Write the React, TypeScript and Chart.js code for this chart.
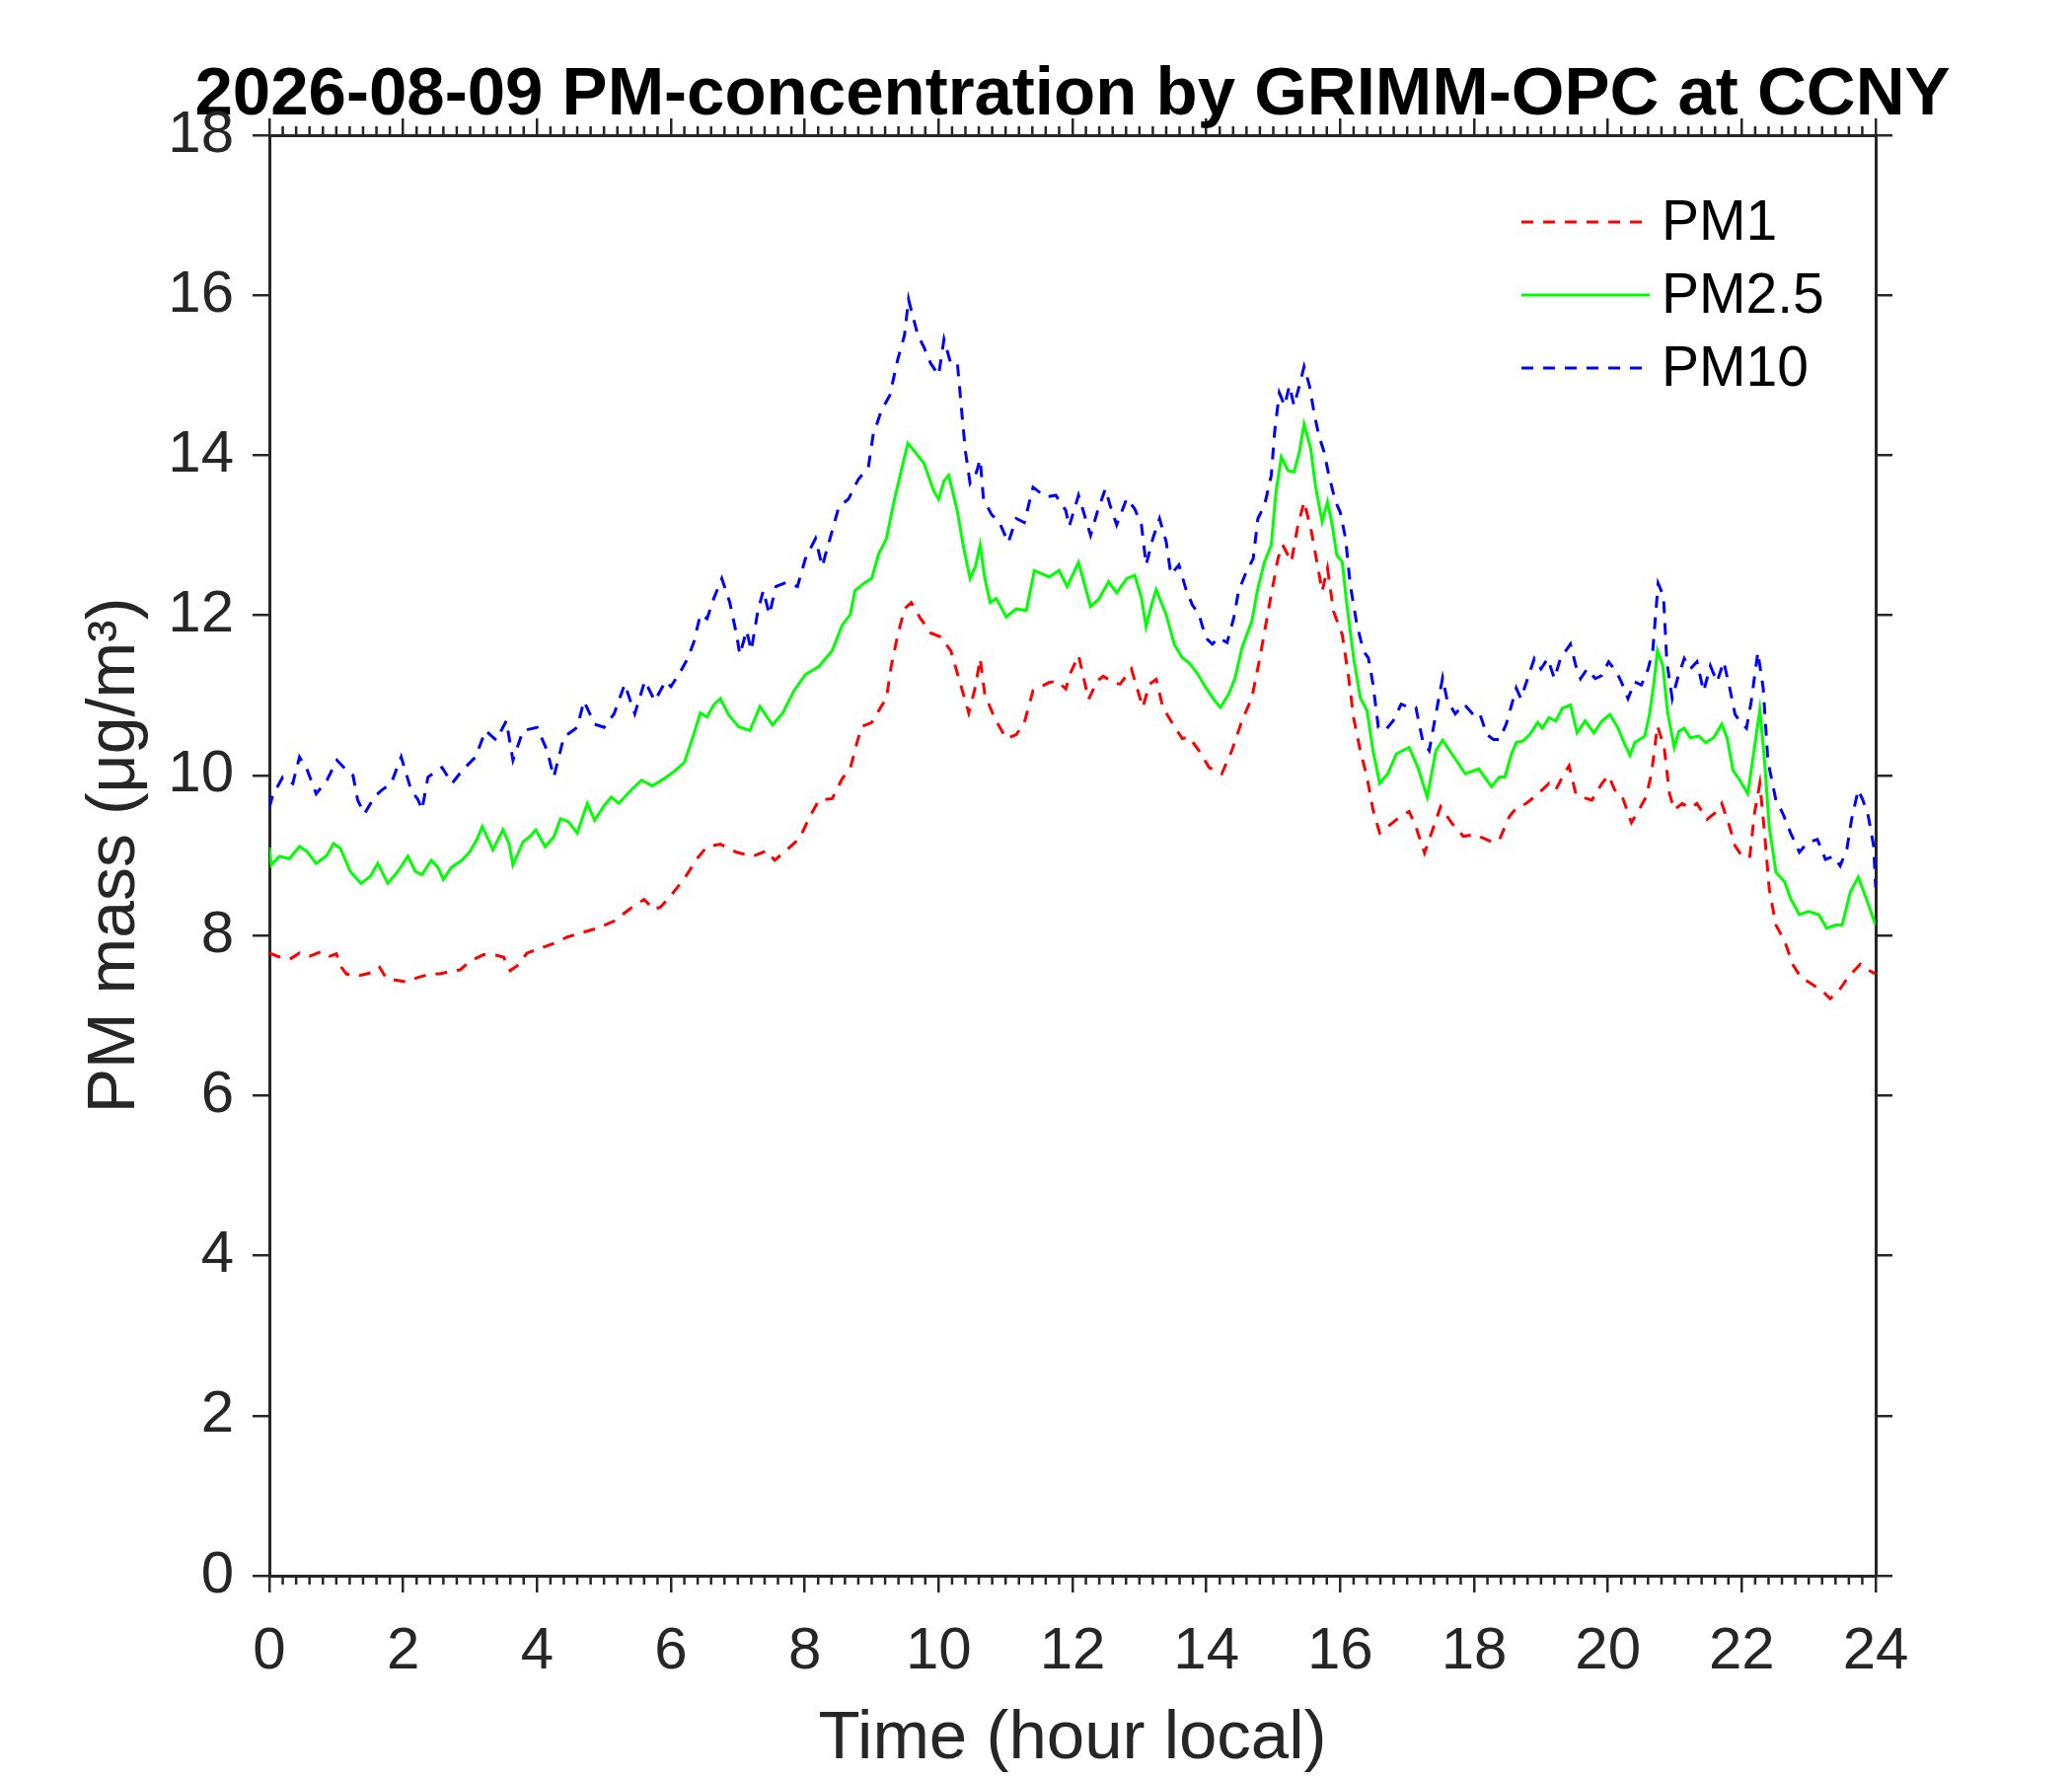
import React, { useEffect, useRef } from 'react';
import { Chart, registerables } from 'chart.js';

Chart.register(...registerables);

// Time in hours (local), mass in µg/m³
const pm1Hours = [
  0.0, 0.12, 0.3, 0.45, 0.6, 0.78, 0.9, 1.0, 1.08, 1.15, 1.3, 1.45, 1.6, 1.65, 1.75, 1.9, 2.05, 2.2, 2.4, 2.55,
  2.7, 2.85, 3.0, 3.2, 3.35, 3.5, 3.6, 3.7, 3.85, 4.05, 4.25, 4.45, 4.65, 4.9, 5.15, 5.4, 5.6, 5.75, 5.85, 6.0,
  6.2, 6.39, 6.54, 6.74, 6.98, 7.23, 7.43, 7.55, 7.72, 7.92, 8.06, 8.21, 8.41, 8.56, 8.68, 8.78, 8.85, 9.0, 9.14, 9.22,
  9.29, 9.39, 9.49, 9.59, 9.73, 9.88, 10.03, 10.18, 10.32, 10.45, 10.55, 10.62, 10.69, 10.84, 11.01, 11.16, 11.28, 11.41, 11.65, 11.77,
  11.9, 11.97, 12.09, 12.24, 12.37, 12.46, 12.61, 12.71, 12.88, 13.05, 13.15, 13.25, 13.35, 13.5, 13.64, 13.74, 13.89, 14.04, 14.23, 14.38,
  14.53, 14.68, 14.8, 14.87, 14.97, 15.07, 15.14, 15.27, 15.36, 15.46, 15.56, 15.66, 15.73, 15.81, 15.9, 16.03, 16.12, 16.2, 16.3, 16.4,
  16.49, 16.59, 16.71, 16.86, 17.03, 17.13, 17.26, 17.38, 17.5, 17.67, 17.84, 18.02, 18.29, 18.38, 18.53, 18.63, 18.78, 18.93, 19.12, 19.22,
  19.32, 19.42, 19.52, 19.61, 19.76, 19.91, 20.01, 20.1, 20.2, 20.35, 20.45, 20.57, 20.65, 20.74, 20.84, 20.92, 20.99, 21.11, 21.23, 21.33,
  21.48, 21.6, 21.7, 21.8, 21.9, 22.02, 22.12, 22.19, 22.27, 22.34, 22.41, 22.51, 22.64, 22.76, 22.88, 23.05, 23.2, 23.32, 23.45, 23.59,
  23.77, 23.86, 24.0,
];
const pm1Values = [
  7.78, 7.74, 7.70, 7.78, 7.74, 7.80, 7.74, 7.77, 7.60, 7.52, 7.49, 7.52, 7.55, 7.60, 7.46, 7.44, 7.42, 7.47, 7.52, 7.52,
  7.55, 7.57, 7.68, 7.76, 7.76, 7.73, 7.56, 7.62, 7.78, 7.84, 7.90, 7.98, 8.03, 8.09, 8.18, 8.34, 8.45, 8.32, 8.36, 8.50,
  8.71, 8.96, 9.11, 9.14, 9.04, 8.99, 9.06, 8.94, 9.06, 9.21, 9.46, 9.69, 9.71, 9.96, 10.09, 10.41, 10.61, 10.66, 10.86, 10.96,
  11.36, 11.76, 12.08, 12.16, 11.96, 11.78, 11.73, 11.56, 11.16, 10.78, 11.11, 11.46, 11.01, 10.71, 10.46, 10.51, 10.66, 11.06, 11.16, 11.18,
  11.08, 11.28, 11.5, 10.95, 11.18, 11.24, 11.16, 11.14, 11.33, 10.85, 11.14, 11.2, 10.85, 10.64, 10.46, 10.48, 10.31, 10.10, 10.02, 10.31,
  10.68, 10.97, 11.47, 11.80, 12.26, 12.71, 12.88, 12.67, 13.09, 13.42, 13.09, 12.63, 12.30, 12.59, 12.05, 11.76, 11.26, 10.72, 10.31, 9.98,
  9.57, 9.28, 9.36, 9.46, 9.55, 9.36, 9.03, 9.32, 9.61, 9.40, 9.24, 9.26, 9.16, 9.2, 9.49, 9.59, 9.65, 9.75, 9.9, 9.82,
  9.98, 10.12, 9.77, 9.73, 9.69, 9.9, 10.0, 9.82, 9.77, 9.41, 9.55, 9.73, 10.02, 10.62, 10.35, 9.77, 9.57, 9.65, 9.59, 9.65,
  9.45, 9.53, 9.65, 9.41, 9.12, 8.97, 8.99, 9.53, 9.9, 9.28, 8.58, 8.13, 7.93, 7.64, 7.48, 7.39, 7.31, 7.21, 7.31, 7.48,
  7.64, 7.58, 7.52,
];

const pm25Hours = [
  0.0, 0.03, 0.15, 0.3, 0.45, 0.56, 0.7, 0.86, 0.96, 1.06, 1.21, 1.37, 1.51, 1.62, 1.77, 1.92, 2.07, 2.18, 2.28, 2.42,
  2.52, 2.6, 2.72, 2.88, 3.0, 3.1, 3.18, 3.26, 3.34, 3.49, 3.58, 3.64, 3.79, 3.9, 3.98, 4.12, 4.25, 4.35, 4.47, 4.6,
  4.75, 4.86, 5.0, 5.11, 5.22, 5.41, 5.56, 5.72, 5.9, 6.05, 6.2, 6.34, 6.44, 6.54, 6.64, 6.74, 6.86, 7.01, 7.18, 7.33,
  7.52, 7.67, 7.84, 8.01, 8.21, 8.41, 8.56, 8.68, 8.75, 8.9, 9.0, 9.1, 9.22, 9.34, 9.44, 9.54, 9.64, 9.78, 9.93, 10.0,
  10.08, 10.15, 10.28, 10.37, 10.47, 10.55, 10.62, 10.69, 10.77, 10.86, 11.01, 11.16, 11.31, 11.43, 11.65, 11.8, 11.92, 12.09, 12.27, 12.39,
  12.54, 12.66, 12.81, 12.93, 13.03, 13.1, 13.18, 13.25, 13.4, 13.52, 13.64, 13.74, 13.86, 13.99, 14.11, 14.21, 14.33, 14.43, 14.53, 14.68,
  14.77, 14.87, 14.97, 15.04, 15.12, 15.22, 15.31, 15.39, 15.46, 15.56, 15.63, 15.73, 15.81, 15.88, 15.95, 16.03, 16.1, 16.2, 16.3, 16.4,
  16.49, 16.59, 16.71, 16.84, 17.03, 17.16, 17.3, 17.43, 17.53, 17.7, 17.87, 18.07, 18.26, 18.38, 18.46, 18.56, 18.63, 18.73, 18.83, 18.95,
  19.02, 19.12, 19.22, 19.32, 19.44, 19.54, 19.66, 19.79, 19.91, 20.03, 20.15, 20.25, 20.33, 20.4, 20.55, 20.62, 20.69, 20.74, 20.82, 20.89,
  20.99, 21.06, 21.14, 21.23, 21.36, 21.46, 21.58, 21.7, 21.78, 21.87, 21.97, 22.09, 22.19, 22.27, 22.34, 22.41, 22.51, 22.64, 22.73, 22.86,
  23.0, 23.15, 23.27, 23.4, 23.5, 23.62, 23.74, 23.86, 24.0,
];
const pm25Values = [
  9.1, 8.88, 8.99, 8.96, 9.11, 9.05, 8.90, 9.0, 9.15, 9.09, 8.80, 8.65, 8.74, 8.90, 8.65, 8.80, 8.99, 8.80, 8.76, 8.94,
  8.85, 8.70, 8.85, 8.94, 9.05, 9.20, 9.36, 9.22, 9.07, 9.32, 9.15, 8.88, 9.17, 9.24, 9.32, 9.11, 9.23, 9.46, 9.42, 9.28,
  9.65, 9.44, 9.62, 9.73, 9.65, 9.82, 9.94, 9.87, 9.96, 10.05, 10.16, 10.51, 10.78, 10.73, 10.88, 10.96, 10.76, 10.61, 10.56, 10.86,
  10.63, 10.78, 11.06, 11.26, 11.36, 11.56, 11.88, 12.01, 12.31, 12.41, 12.46, 12.76, 12.96, 13.45, 13.80, 14.15, 14.05, 13.90, 13.55, 13.45,
  13.68, 13.75, 13.30, 12.86, 12.46, 12.61, 12.88, 12.46, 12.16, 12.21, 11.98, 12.08, 12.06, 12.56, 12.48, 12.56, 12.36, 12.66, 12.11, 12.2,
  12.42, 12.28, 12.46, 12.5, 12.22, 11.86, 12.13, 12.32, 12.01, 11.64, 11.47, 11.41, 11.28, 11.1, 10.95, 10.85, 11.01, 11.22, 11.59, 11.93,
  12.34, 12.67, 12.88, 13.54, 13.98, 13.81, 13.79, 14.04, 14.39, 14.08, 13.62, 13.17, 13.42, 13.13, 12.75, 12.67, 12.13, 11.47, 10.97, 10.81,
  10.31, 9.9, 10.02, 10.27, 10.35, 10.10, 9.73, 10.31, 10.44, 10.23, 10.02, 10.08, 9.86, 9.98, 9.98, 10.27, 10.41, 10.43, 10.51, 10.66,
  10.59, 10.72, 10.68, 10.84, 10.88, 10.53, 10.68, 10.53, 10.68, 10.76, 10.59, 10.39, 10.25, 10.41, 10.49, 10.76, 11.17, 11.56, 11.37, 10.8,
  10.35, 10.55, 10.59, 10.47, 10.49, 10.41, 10.47, 10.64, 10.47, 10.06, 9.94, 9.77, 10.35, 10.82, 10.18, 9.36, 8.79, 8.67, 8.46, 8.26,
  8.3, 8.26, 8.09, 8.13, 8.13, 8.54, 8.73, 8.46, 8.13,
];

const pm10Hours = [
  0.0, 0.05, 0.2, 0.35, 0.45, 0.56, 0.7, 0.86, 1.01, 1.16, 1.25, 1.32, 1.42, 1.57, 1.67, 1.82, 1.97, 2.12, 2.22, 2.28,
  2.37, 2.58, 2.73, 2.88, 3.08, 3.23, 3.39, 3.54, 3.64, 3.79, 4.0, 4.15, 4.25, 4.4, 4.6, 4.7, 4.86, 5.0, 5.15, 5.31,
  5.46, 5.61, 5.76, 5.92, 6.0, 6.15, 6.25, 6.34, 6.44, 6.54, 6.64, 6.76, 6.88, 6.98, 7.03, 7.13, 7.2, 7.3, 7.38, 7.47,
  7.57, 7.72, 7.89, 8.01, 8.16, 8.26, 8.41, 8.51, 8.65, 8.8, 8.95, 9.02, 9.14, 9.27, 9.39, 9.49, 9.55, 9.61, 9.69, 9.78,
  9.88, 10.0, 10.08, 10.18, 10.28, 10.35, 10.4, 10.47, 10.55, 10.62, 10.67, 10.79, 10.91, 11.04, 11.16, 11.28, 11.41, 11.6, 11.75, 11.9,
  11.95, 12.09, 12.27, 12.37, 12.49, 12.56, 12.66, 12.81, 12.93, 13.03, 13.1, 13.2, 13.3, 13.4, 13.47, 13.59, 13.69, 13.79, 13.89, 13.99,
  14.09, 14.18, 14.31, 14.41, 14.48, 14.58, 14.7, 14.77, 14.87, 14.97, 15.02, 15.09, 15.17, 15.24, 15.31, 15.39, 15.46, 15.54, 15.61, 15.68,
  15.76, 15.83, 15.93, 16.0, 16.08, 16.15, 16.25, 16.35, 16.42, 16.49, 16.57, 16.67, 16.79, 16.91, 17.03, 17.13, 17.23, 17.33, 17.43, 17.53,
  17.6, 17.72, 17.85, 18.02, 18.09, 18.19, 18.29, 18.38, 18.48, 18.56, 18.63, 18.7, 18.8, 18.9, 19.0, 19.1, 19.2, 19.29, 19.44, 19.52,
  19.59, 19.69, 19.81, 19.91, 20.01, 20.13, 20.2, 20.3, 20.4, 20.5, 20.6, 20.67, 20.75, 20.83, 20.88, 20.96, 21.04, 21.14, 21.23, 21.33,
  21.43, 21.53, 21.63, 21.73, 21.82, 21.9, 21.97, 22.07, 22.14, 22.24, 22.32, 22.39, 22.51, 22.61, 22.73, 22.86, 22.98, 23.13, 23.25, 23.37,
  23.47, 23.57, 23.64, 23.74, 23.81, 23.89, 23.97, 24.0,
];
const pm10Values = [
  9.6, 9.75, 9.98, 9.9, 10.23, 10.08, 9.77, 9.94, 10.19, 10.06, 10.0, 9.69, 9.52, 9.73, 9.81, 9.9, 10.23, 9.81, 9.7, 9.57,
  9.98, 10.1, 9.9, 10.06, 10.23, 10.56, 10.44, 10.68, 10.19, 10.56, 10.6, 10.31, 9.98, 10.48, 10.6, 10.93, 10.64, 10.6, 10.77, 11.14,
  10.77, 11.18, 10.93, 11.18, 11.11, 11.31, 11.46, 11.66, 12.01, 11.96, 12.21, 12.46, 12.16, 11.76, 11.51, 11.81, 11.56, 12.06, 12.31, 12.01,
  12.36, 12.41, 12.36, 12.71, 12.96, 12.61, 13.06, 13.36, 13.45, 13.70, 13.85, 14.25, 14.55, 14.75, 15.20, 15.50, 15.95, 15.75, 15.50, 15.35,
  15.15, 15.00, 15.45, 15.15, 15.15, 14.50, 14.05, 13.65, 13.75, 13.95, 13.45, 13.26, 13.16, 12.91, 13.21, 13.16, 13.60, 13.48, 13.50, 13.31,
  13.11, 13.50, 13.0, 13.29, 13.58, 13.38, 13.13, 13.46, 13.33, 13.13, 12.63, 12.96, 13.21, 12.92, 12.51, 12.63, 12.34, 12.13, 12.01, 11.72,
  11.64, 11.72, 11.66, 11.97, 12.30, 12.51, 12.71, 13.21, 13.38, 13.75, 14.29, 14.78, 14.62, 14.87, 14.62, 14.87, 15.11, 14.87, 14.53, 14.25,
  14.04, 13.75, 13.42, 13.29, 12.96, 12.38, 11.88, 11.55, 11.47, 11.14, 10.6, 10.56, 10.68, 10.89, 10.85, 10.85, 10.44, 10.31, 10.77, 11.22,
  10.93, 10.77, 10.89, 10.73, 10.76, 10.51, 10.45, 10.45, 10.64, 10.88, 11.09, 10.96, 11.21, 11.46, 11.33, 11.46, 11.21, 11.46, 11.64, 11.37,
  11.21, 11.33, 11.21, 11.25, 11.42, 11.29, 11.17, 10.96, 11.17, 11.13, 11.33, 11.56, 12.4, 12.24, 11.42, 10.96, 11.21, 11.46, 11.33, 11.42,
  11.05, 11.37, 11.17, 11.42, 11.09, 10.76, 10.68, 10.59, 10.92, 11.54, 11.09, 10.18, 9.69, 9.53, 9.28, 9.04, 9.16, 9.2, 8.95, 8.99,
  8.87, 9.08, 9.45, 9.82, 9.69, 9.49, 9.12, 8.6,
];

const seriesLabels = ['PM1', 'PM2.5', 'PM10'];
const seriesColors = ['#ff0000', '#00ff00', '#0000ff'];
const minorTickStep = 0.2;

const FONT = '"Liberation Sans", Arial, Helvetica, sans-serif';
const AXIS_COLOR = '#262626';

const toPoints = (hours: number[], values: number[]) =>
  hours.map((h, i) => ({ x: h, y: values[i] }));

// MATLAB-style minor ticks on the bottom and top edges
const minorTicksPlugin = {
  id: 'minorTicks',
  afterDraw(chart: any) {
    const { ctx, chartArea, scales } = chart;
    const xs = scales.x;
    ctx.save();
    ctx.strokeStyle = AXIS_COLOR;
    ctx.lineWidth = 2.5;
    ctx.beginPath();
    const n = Math.round((xs.max - xs.min) / minorTickStep);
    for (let i = 1; i < n; i++) {
      if (i % 10 === 0) continue;
      const px = xs.getPixelForValue(xs.min + i * minorTickStep);
      ctx.moveTo(px, chartArea.bottom);
      ctx.lineTo(px, chartArea.bottom + 9);
      ctx.moveTo(px, chartArea.top);
      ctx.lineTo(px, chartArea.top - 9);
    }
    ctx.stroke();
    ctx.restore();
  },
};

// legend drawn inside the axes, top right, no box
const innerLegendPlugin = {
  id: 'innerLegend',
  afterDatasetsDraw(chart: any) {
    const { ctx, chartArea } = chart;
    const x0 = chartArea.right - 359;
    const x1 = x0 + 130;
    ctx.save();
    chart.data.datasets.forEach((ds: any, i: number) => {
      const y = chartArea.top + 88 + i * 74;
      ctx.strokeStyle = ds.borderColor;
      ctx.lineWidth = 3;
      ctx.setLineDash(ds.borderDash || []);
      ctx.beginPath();
      ctx.moveTo(x0, y);
      ctx.lineTo(x1, y);
      ctx.stroke();
      ctx.setLineDash([]);
      ctx.fillStyle = '#000';
      ctx.font = `57px ${FONT}`;
      ctx.textAlign = 'left';
      ctx.textBaseline = 'middle';
      ctx.fillText(ds.label, x1 + 12, y + 2);
    });
    ctx.restore();
  },
};

const edgeAxis = (position: string, max: number, size: number) => ({
  type: 'linear',
  position,
  min: 0,
  max,
  ticks: { display: false, stepSize: 2 },
  grid: { drawOnChartArea: false, drawTicks: true, tickLength: 17, lineWidth: 2.5, color: AXIS_COLOR },
  border: { display: true, color: AXIS_COLOR, width: 3 },
  afterFit: (s: any) => {
    if (position === 'top') s.height = size;
    else s.width = size;
  },
});

const PMChart: React.FC = () => {
  const chartRef = useRef<HTMLCanvasElement>(null);
  const chartInstance = useRef<Chart | null>(null);

  useEffect(() => {
    if (!chartRef.current) return;
    document.body.style.margin = '0';

    if (chartInstance.current) {
      chartInstance.current.destroy();
    }

    const ctx = chartRef.current.getContext('2d');
    if (!ctx) return;

    const series = [
      toPoints(pm1Hours, pm1Values),
      toPoints(pm25Hours, pm25Values),
      toPoints(pm10Hours, pm10Values),
    ];
    const dashes = [[12, 10], [], [12, 10]];

    chartInstance.current = new Chart(ctx, {
      type: 'line',
      data: {
        datasets: series.map((pts, i) => ({
          label: seriesLabels[i],
          data: pts,
          borderColor: seriesColors[i],
          borderWidth: 3,
          borderDash: dashes[i],
          pointRadius: 0,
          tension: 0,
          fill: false,
        })),
      },
      options: {
        responsive: false,
        animation: false,
        devicePixelRatio: 1,
        // left padding shifts the full-width title so it centres over the axes
        layout: { padding: { left: 74, right: 0, top: 0, bottom: 0 } },
        plugins: {
          legend: { display: false },
          tooltip: { enabled: false },
          title: {
            display: true,
            text: '2026-08-09 PM-concentration by GRIMM-OPC at CCNY',
            color: '#000',
            font: { family: FONT, size: 69, weight: 'bold', lineHeight: 1.0 },
            padding: { top: 62, bottom: 0 },
          },
        },
        scales: {
          x: {
            type: 'linear',
            position: 'bottom',
            min: 0,
            max: 24,
            ticks: {
              stepSize: 2,
              padding: 24,
              color: AXIS_COLOR,
              autoSkip: false,
              maxRotation: 0,
              font: { family: FONT, size: 60 },
            },
            grid: { drawOnChartArea: false, drawTicks: true, tickLength: 17, lineWidth: 2.5, color: AXIS_COLOR },
            border: { display: true, color: AXIS_COLOR, width: 3 },
            title: {
              display: true,
              text: 'Time (hour local)',
              color: AXIS_COLOR,
              font: { family: FONT, size: 69, lineHeight: 1.0 },
              padding: { top: 0, bottom: 3 },
            },
            afterFit: (s: any) => {
              s.height = 203;
            },
          },
          x2: edgeAxis('top', 24, 6),
          y: {
            type: 'linear',
            position: 'left',
            min: 0,
            max: 18,
            ticks: {
              stepSize: 2,
              padding: 19,
              color: AXIS_COLOR,
              font: { family: FONT, size: 60 },
            },
            grid: { drawOnChartArea: false, drawTicks: true, tickLength: 17, lineWidth: 2.5, color: AXIS_COLOR },
            border: { display: true, color: AXIS_COLOR, width: 3 },
            title: {
              display: true,
              text: 'PM mass (\u03bcg/m\u00b3)',
              color: AXIS_COLOR,
              font: { family: FONT, size: 68 },
              padding: { top: 2, bottom: 0 },
            },
            afterFit: (s: any) => {
              s.width = 199;
            },
          },
          y2: edgeAxis('right', 18, 199),
        },
      } as any,
      plugins: [minorTicksPlugin, innerLegendPlugin],
    });

    return () => {
      if (chartInstance.current) {
        chartInstance.current.destroy();
        chartInstance.current = null;
      }
    };
  }, []);

  return (
    <canvas
      ref={chartRef}
      width={2100}
      height={1800}
      style={{ display: 'block', width: '2100px', height: '1800px' }}
    ></canvas>
  );
};

export default function App() {
  return <PMChart />;
}
